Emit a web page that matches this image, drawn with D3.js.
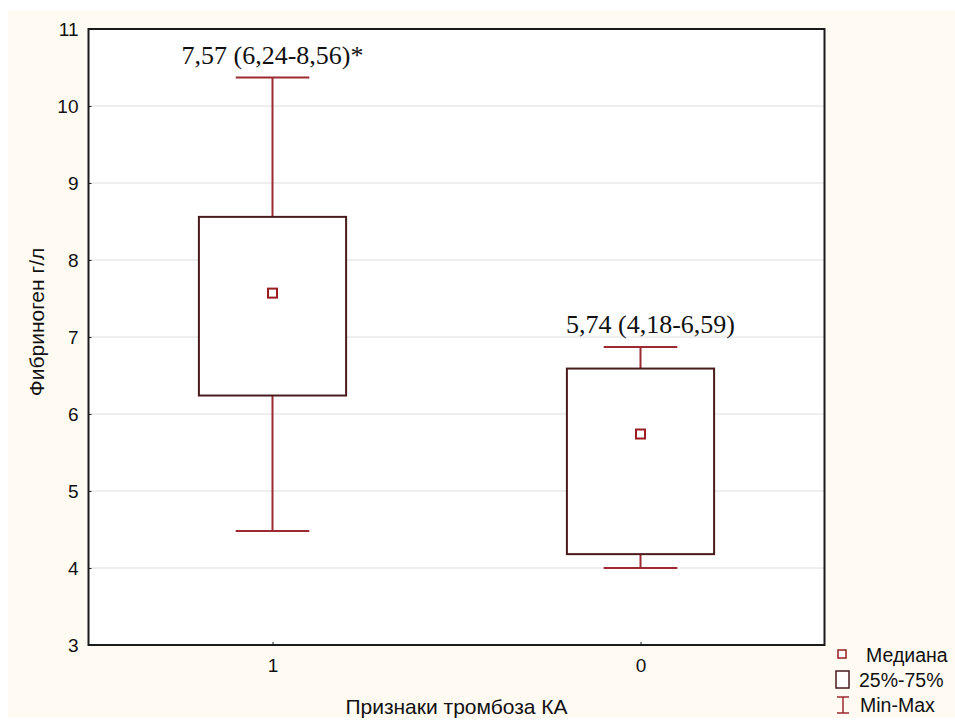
<!DOCTYPE html>
<html>
<head>
<meta charset="utf-8">
<script src="https://cdn.jsdelivr.net/npm/d3@7"></script>
<style>
    body { margin: 0; background: #fff; }
    svg { display: block; }
</style>
</head>
<body>
<script>

// data
var groups = ['1', '0'];
var mins = [4.48, 4.0];
var q1s = [6.24, 4.18];
var medians = [7.57, 5.74];
var q3s = [8.56, 6.59];
var maxs = [10.37, 6.87];
var labels = ['7,57 (6,24-8,56)*', '5,74 (4,18-6,59)'];
var yTicks = [3, 4, 5, 6, 7, 8, 9, 10, 11];

var boxColor = '#4a1b1d';
var whiskColor = '#9c2a30';
var sans = 'Liberation Sans, Arial, sans-serif';

var svg = d3.select('body').append('svg')
    .attr('width', 955)
    .attr('height', 720);

// cream page
svg.append('rect')
    .attr('x', 8).attr('y', 10)
    .attr('width', 947).attr('height', 708)
    .attr('fill', '#fffbf3');

var margin = { top: 29, right: 130, bottom: 75, left: 88.5 };
var width = 824.5 - margin.left;
var height = 645 - margin.top;

var g = svg.append('g')
    .attr('transform', 'translate(' + margin.left + ',' + margin.top + ')');

var x = d3.scalePoint()
    .domain(groups)
    .range([0, width])
    .padding(0.5);

var y = d3.scaleLinear()
    .domain([3, 11])
    .range([height, 0]);

g.append('rect')
    .attr('width', width).attr('height', height)
    .attr('fill', '#fff');

// grid
g.selectAll('.grid')
    .data(yTicks.slice(1, -1))
    .enter().append('line')
    .attr('x1', 0).attr('x2', width)
    .attr('y1', d => y(d)).attr('y2', d => y(d))
    .attr('stroke', '#dedede')
    .attr('stroke-width', 1);

// axes
var yAxis = g.append('g')
    .call(d3.axisLeft(y).tickValues(yTicks).tickSize(-3).tickPadding(10));
var xAxis = g.append('g')
    .attr('transform', 'translate(0,' + height + ')')
    .call(d3.axisBottom(x).tickSize(-3).tickPadding(14));

[xAxis, yAxis].forEach(a => {
    a.select('.domain').remove();
    a.selectAll('line').attr('stroke', '#222');
    a.selectAll('text')
        .attr('font-family', sans)
        .attr('font-size', 19)
        .attr('fill', '#111');
});

// frame
g.append('rect')
    .attr('width', width).attr('height', height)
    .attr('fill', 'none')
    .attr('stroke', '#1a1a1a')
    .attr('stroke-width', 2);

var boxW = width * 0.2;
var capW = width * 0.1;

var idx = d3.range(groups.length);

// whiskers
g.selectAll('.whisk-up').data(idx).enter().append('line')
    .attr('x1', i => x(groups[i])).attr('x2', i => x(groups[i]))
    .attr('y1', i => y(q3s[i])).attr('y2', i => y(maxs[i]))
    .attr('stroke', whiskColor).attr('stroke-width', 2);
g.selectAll('.whisk-dn').data(idx).enter().append('line')
    .attr('x1', i => x(groups[i])).attr('x2', i => x(groups[i]))
    .attr('y1', i => y(q1s[i])).attr('y2', i => y(mins[i]))
    .attr('stroke', whiskColor).attr('stroke-width', 2);
g.selectAll('.cap-max').data(idx).enter().append('line')
    .attr('x1', i => x(groups[i]) - capW / 2).attr('x2', i => x(groups[i]) + capW / 2)
    .attr('y1', i => y(maxs[i])).attr('y2', i => y(maxs[i]))
    .attr('stroke', whiskColor).attr('stroke-width', 2);
g.selectAll('.cap-min').data(idx).enter().append('line')
    .attr('x1', i => x(groups[i]) - capW / 2).attr('x2', i => x(groups[i]) + capW / 2)
    .attr('y1', i => y(mins[i])).attr('y2', i => y(mins[i]))
    .attr('stroke', whiskColor).attr('stroke-width', 2);

// boxes
g.selectAll('.box').data(idx).enter().append('rect')
    .attr('x', i => x(groups[i]) - boxW / 2)
    .attr('y', i => y(q3s[i]))
    .attr('width', boxW)
    .attr('height', i => y(q1s[i]) - y(q3s[i]))
    .attr('fill', '#fff')
    .attr('stroke', boxColor)
    .attr('stroke-width', 2);

// medians
g.selectAll('.med').data(idx).enter().append('rect')
    .attr('x', i => x(groups[i]) - 4.5)
    .attr('y', i => y(medians[i]) - 4.5)
    .attr('width', 9).attr('height', 9)
    .attr('fill', '#fff')
    .attr('stroke', '#9b1d22')
    .attr('stroke-width', 2);

// annotations
var labelDx = [0, 10];
g.selectAll('.ann').data(idx).enter().append('text')
    .attr('x', i => x(groups[i]) + labelDx[i])
    .attr('y', i => y(maxs[i]) - 14)
    .attr('text-anchor', 'middle')
    .attr('font-family', 'Liberation Serif, Times New Roman, serif')
    .attr('font-size', 26)
    .attr('fill', '#111')
    .text(i => labels[i]);

// axis titles
svg.append('text')
    .attr('x', margin.left + width / 2)
    .attr('y', 714)
    .attr('text-anchor', 'middle')
    .attr('font-family', sans)
    .attr('font-size', 21)
    .attr('fill', '#111')
    .text('Признаки тромбоза КА');

svg.append('text')
    .attr('transform', 'translate(44,322) rotate(-90)')
    .attr('text-anchor', 'middle')
    .attr('font-family', sans)
    .attr('font-size', 21)
    .attr('fill', '#111')
    .text('Фибриноген г/л');

// legend
var lg = svg.append('g');
lg.append('rect')
    .attr('x', 838).attr('y', 650).attr('width', 8).attr('height', 8)
    .attr('fill', '#fff').attr('stroke', '#9b1d22').attr('stroke-width', 1.5);
lg.append('rect')
    .attr('x', 836).attr('y', 671).attr('width', 13).attr('height', 17)
    .attr('fill', '#fff').attr('stroke', boxColor).attr('stroke-width', 1.5);
lg.append('line')
    .attr('x1', 843).attr('x2', 843).attr('y1', 697).attr('y2', 713)
    .attr('stroke', whiskColor).attr('stroke-width', 1.5);
lg.append('line')
    .attr('x1', 837).attr('x2', 849).attr('y1', 697).attr('y2', 697)
    .attr('stroke', whiskColor).attr('stroke-width', 1.5);
lg.append('line')
    .attr('x1', 837).attr('x2', 849).attr('y1', 713).attr('y2', 713)
    .attr('stroke', whiskColor).attr('stroke-width', 1.5);

var legendText = [['Медиана', 866, 662], ['25%-75%', 859, 687], ['Min-Max', 860, 712]];
lg.selectAll('text').data(legendText).enter().append('text')
    .attr('x', d => d[1]).attr('y', d => d[2])
    .attr('font-family', sans)
    .attr('font-size', 19.5)
    .attr('fill', '#111')
    .text(d => d[0]);

</script>
</body>
</html>
